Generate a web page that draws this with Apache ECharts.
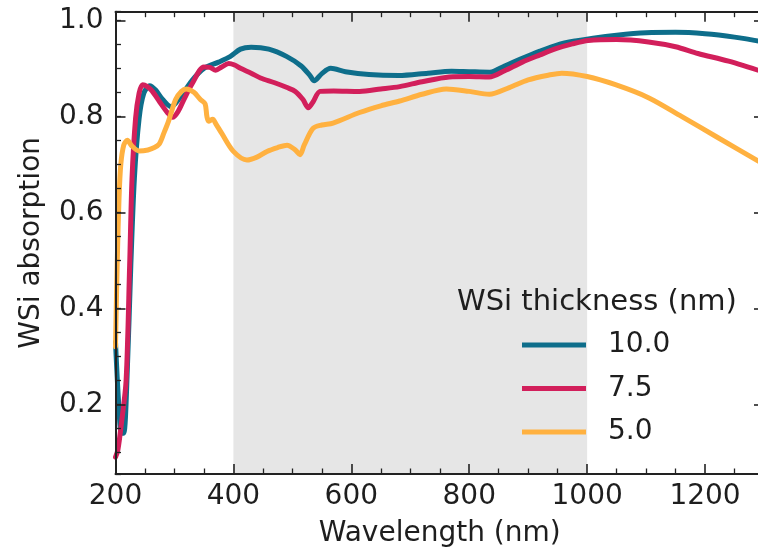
<!DOCTYPE html>
<html>
<head>
<meta charset="utf-8">
<script src="https://cdn.jsdelivr.net/npm/echarts@6/dist/echarts.min.js"></script>
<style>html,body{margin:0;padding:0;background:#fff;overflow:hidden}#c{width:767px;height:554px}</style>
</head>
<body>
<div id="c"></div>
<script>
// ---- data ----
const seriesNames = ['10.0', '7.5', '5.0'];
const legendTitle = 'WSi thickness (nm)';
const xTitle = 'Wavelength (nm)';
const yTitle = 'WSi absorption';
const shadeRange = [400, 1000];

const w10 = [200,205,210,214,220,226,232,240,248,258,268,280,294,310,330,350,375,395,412,430,460,490,515,530,537,550,565,590,630,680,730,770,800,835,860,890,920,950,980,1010,1050,1100,1150,1200,1250,1300];
const a10 = [0.33,0.21,0.14,0.14,0.27,0.49,0.67,0.795,0.848,0.864,0.855,0.835,0.82,0.84,0.875,0.9,0.913,0.925,0.94,0.944,0.94,0.925,0.905,0.885,0.874,0.889,0.9,0.893,0.887,0.885,0.89,0.894,0.893,0.892,0.905,0.921,0.936,0.949,0.957,0.963,0.969,0.974,0.975,0.972,0.965,0.955];

const w75 = [200,204,210,218,224,228,234,240,246,254,262,275,288,297,306,316,330,350,360,370,380,392,402,412,430,446,470,491,505,518,527,535,547,570,614,650,682,720,766,800,834,860,890,920,947,975,1002,1050,1104,1150,1188,1240,1300];
const a75 = [0.09,0.105,0.16,0.25,0.49,0.67,0.795,0.848,0.866,0.862,0.853,0.83,0.808,0.798,0.81,0.835,0.868,0.903,0.902,0.896,0.903,0.91,0.907,0.9,0.89,0.88,0.87,0.86,0.852,0.835,0.818,0.83,0.852,0.853,0.852,0.857,0.862,0.872,0.882,0.883,0.882,0.895,0.913,0.928,0.941,0.951,0.958,0.96,0.955,0.945,0.931,0.915,0.892];

const w50 = [200,203,206,209,214,220,228,240,255,266,274,282,290,302,312,320,333,344,352,355,358,365,370,380,400,423,440,457,475,491,505,513,520,535,550,569,614,650,682,720,761,800,834,868,900,935,957,1000,1048,1104,1160,1220,1300];
const a50 = [0.32,0.5,0.63,0.70,0.74,0.75,0.738,0.728,0.73,0.735,0.742,0.765,0.79,0.835,0.852,0.857,0.85,0.835,0.826,0.8,0.79,0.794,0.785,0.765,0.727,0.709,0.715,0.727,0.735,0.74,0.73,0.72,0.74,0.775,0.782,0.786,0.808,0.822,0.832,0.846,0.857,0.852,0.846,0.86,0.876,0.886,0.89,0.883,0.866,0.839,0.8,0.757,0.7];

const colors = ['#0e6e8b', '#d21f5b', '#ffb140'];
const zip = (xs, ys) => xs.map((x, i) => [x, ys[i]]);
const seriesData = [zip(w10, a10), zip(w75, a75), zip(w50, a50)];

const FONT = 'DejaVu Sans';
const FS = 28;
const TXT = '#1e1e1e';
const SPINE = '#222';

const chart = echarts.init(document.getElementById('c'), null, {renderer: 'canvas'});

const xCommon = {
  type: 'value', min: 200, max: 1300, interval: 200,
  axisLine: {show: true, lineStyle: {color: SPINE, width: 2}},
  axisTick: {show: true, inside: true, length: 10, lineStyle: {color: SPINE, width: 1.6}},
  minorTick: {show: true, splitNumber: 4, length: 5.5, lineStyle: {color: SPINE, width: 1.3}},
  splitLine: {show: false}, minorSplitLine: {show: false}, z: 10
};
const yMin = 0.055, yMax = 1.018;

const option = {
  animation: false,
  backgroundColor: '#fff',
  title: {
    text: legendTitle, left: 457, top: 285, padding: 0,
    textStyle: {fontFamily: FONT, fontSize: 29, fontWeight: 'normal', color: TXT, lineHeight: 34}
  },
  legend: {
    orient: 'vertical', left: 522, top: 328, padding: 0,
    itemWidth: 64, itemHeight: 5, itemGap: 9.5, icon: 'rect',
    data: seriesNames,
    textStyle: {fontFamily: FONT, fontSize: FS, color: TXT, lineHeight: 34, padding: [0, 0, 0, 17]}
  },
  grid: {left: 115.5, right: 0.6, top: 11.7, bottom: 80, containLabel: false},
  xAxis: [
    Object.assign({}, xCommon, {
      position: 'bottom',
      name: xTitle, nameLocation: 'middle', nameGap: 46,
      nameTextStyle: {fontFamily: FONT, fontSize: FS, color: TXT},
      axisLabel: {show: true, margin: 9, fontFamily: FONT, fontSize: FS, color: TXT,
        formatter: v => (v % 200 === 0 && v <= 1200) ? String(v) : ''}
    }),
    Object.assign({}, xCommon, {position: 'top', axisLabel: {show: false}})
  ],
  yAxis: [
    {
      type: 'value', min: yMin, max: yMax, splitNumber: 5, position: 'left',
      name: yTitle, nameLocation: 'middle', nameGap: 70,
      nameTextStyle: {fontFamily: FONT, fontSize: FS, color: TXT},
      axisLine: {show: true, lineStyle: {color: SPINE, width: 2}},
      axisTick: {show: true, inside: true, length: 10, lineStyle: {color: SPINE, width: 1.6}},
      axisLabel: {show: true, margin: 12, fontFamily: FONT, fontSize: FS, color: TXT,
        formatter: v => { const r = Math.round(v * 10); return (Math.abs(v * 10 - r) < 1e-6 && r % 2 === 0) ? v.toFixed(1) : ''; }},
      splitLine: {show: false}, z: 10
    },
    {
      type: 'value', min: yMin, max: yMax, splitNumber: 19, position: 'left',
      axisLine: {show: false},
      axisTick: {show: true, inside: true, length: 5.5, lineStyle: {color: SPINE, width: 1.3}},
      axisLabel: {show: false}, splitLine: {show: false}, z: 10
    },
    {
      type: 'value', min: yMin, max: yMax, splitNumber: 5, position: 'right',
      axisLine: {show: true, lineStyle: {color: SPINE, width: 2}},
      axisTick: {show: true, inside: true, length: 10, lineStyle: {color: SPINE, width: 1.6}},
      axisLabel: {show: false}, splitLine: {show: false}, z: 10
    }
  ],
  series: [
    {
      type: 'line', name: 'shade', data: [], z: 1, silent: true,
      markArea: {silent: true, itemStyle: {color: '#e6e6e6'},
        data: [[{xAxis: shadeRange[0]}, {xAxis: shadeRange[1]}]]}
    }
  ].concat(seriesNames.map((n, i) => ({
    type: 'line', name: n, data: seriesData[i], z: 3,
    showSymbol: false, smooth: 0.3,
    lineStyle: {color: colors[i], width: 5, cap: 'round', join: 'round'},
    itemStyle: {color: colors[i]}
  })))
};
chart.setOption(option);
</script>
</body>
</html>
